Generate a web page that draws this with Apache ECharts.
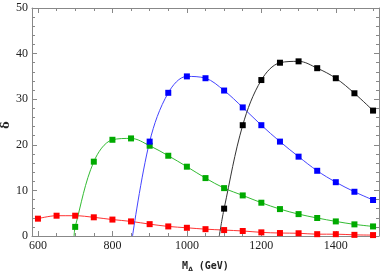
<!DOCTYPE html>
<html><head><meta charset="utf-8">
<script src="https://cdn.jsdelivr.net/npm/echarts@6/dist/echarts.min.js"></script>
<style>html,body{margin:0;padding:0;background:#fff}#c{width:382px;height:272px}</style>
</head><body><div id="c"></div>
<script>
const masses = [600,650,700,750,800,850,900,950,1000,1050,1100,1150,1200,1250,1300,1350,1400,1450,1500];
const redVals   = [3.8,4.45,4.45,4.1,3.6,3.2,2.6,2.1,1.8,1.5,1.3,1.1,0.8,0.65,0.6,0.4,0.4,0.25,0.2];
const greenVals = [null,null,2.0,16.3,21.1,21.4,19.8,17.6,15.2,12.7,10.5,8.9,7.3,5.9,4.8,3.95,3.2,2.55,2.1];
const blueVals  = [null,null,null,null,null,null,20.7,31.4,35.0,34.6,31.9,28.2,24.3,20.7,17.4,14.3,11.8,9.7,7.9];
const blackVals = [null,null,null,null,null,null,null,null,null,null,6.0,24.3,34.2,38.0,38.3,36.8,34.6,31.3,27.5];
// where each curve leaves zero
const greenZero = 697, blueZero = 854, blackZero = 1087;
const xMajor = [600,800,1000,1200,1400];
const xMinor = [650,700,750,850,900,950,1050,1100,1150,1250,1300,1350,1450,1500];

function build(vals, zeroX){
  const d = [];
  if (zeroX !== null) d.push({value:[zeroX,0], symbol:'none'});
  masses.forEach((m,i)=>{ if (vals[i]!==null) d.push([m, vals[i]]); });
  return d;
}
const chart = echarts.init(document.getElementById('c'));
const axisLine = {show:true, lineStyle:{color:'#888', width:1}};
const lblFont = {fontFamily:'"Liberation Serif", "DejaVu Serif", serif', fontSize:12, color:'#222', formatter:v=>String(v)};
const xBase = {type:'value', min:584, max:1516, splitLine:{show:false}, axisLine};
function mkSeries(vals, zeroX, color, lineColor){
  return {type:'line', data:build(vals, zeroX), smooth:0.35, symbol:'rect', symbolSize:6,
    itemStyle:{color}, lineStyle:{color:lineColor, width:1}, xAxisIndex:0, yAxisIndex:0, z:5};
}
chart.setOption({
  animation:false,
  grid:{left:32, right:3, top:8, bottom:36, containLabel:false, outerBoundsMode:'none'},
  graphic:[{type:'text', x:6, y:125, rotation:Math.PI/2,
    style:{text:'δ', font:'bold 11px "DejaVu Serif", serif', fill:'#222', align:'center', verticalAlign:'middle'}}],
  xAxis:[
    Object.assign({}, xBase, {position:'bottom',
      axisTick:{inside:true, length:5, customValues:xMajor, lineStyle:{color:'#888'}},
      axisLabel:Object.assign({customValues:xMajor, margin:4}, lblFont),
      name:'{m|M}{s|Δ}{m| (GeV)}', nameLocation:'middle', nameGap:25, nameMoveOverlap:false,
      nameTextStyle:{rich:{m:{fontFamily:'"DejaVu Sans Mono", monospace', fontWeight:'bold', fontSize:10, color:'#222'},
                          s:{fontFamily:'"DejaVu Sans", sans-serif', fontWeight:'bold', fontSize:6, color:'#222', padding:[5,0,0,0]}}}}),
    Object.assign({}, xBase, {position:'bottom', axisLine:{show:false},
      axisTick:{inside:true, length:3, customValues:xMinor, lineStyle:{color:'#888'}}, axisLabel:{show:false}}),
    Object.assign({}, xBase, {position:'top',
      axisTick:{inside:true, length:5, customValues:xMajor, lineStyle:{color:'#888'}}, axisLabel:{show:false}}),
    Object.assign({}, xBase, {position:'top', axisLine:{show:false},
      axisTick:{inside:true, length:3, customValues:xMinor, lineStyle:{color:'#888'}}, axisLabel:{show:false}})
  ],
  yAxis:[
    {type:'value', min:0, max:50, interval:10, position:'left', splitLine:{show:false}, axisLine,
     axisTick:{inside:true, length:5, lineStyle:{color:'#888'}},
     minorTick:{show:true, splitNumber:5, length:3, lineStyle:{color:'#888'}},
     axisLabel:Object.assign({margin:4}, lblFont)},
    {type:'value', min:0, max:50, interval:10, position:'right', splitLine:{show:false}, axisLine,
     axisTick:{inside:true, length:5, lineStyle:{color:'#888'}},
     minorTick:{show:true, splitNumber:5, length:3, lineStyle:{color:'#888'}},
     axisLabel:{show:false}}
  ],
  series:[
    mkSeries(redVals, null, '#ff0000', '#ff3333'),
    mkSeries(greenVals, greenZero, '#00aa00', '#33bb33'),
    mkSeries(blueVals, blueZero, '#0000ff', '#4444ff'),
    mkSeries(blackVals, blackZero, '#000000', '#333333')
  ]
});
</script></body></html>
